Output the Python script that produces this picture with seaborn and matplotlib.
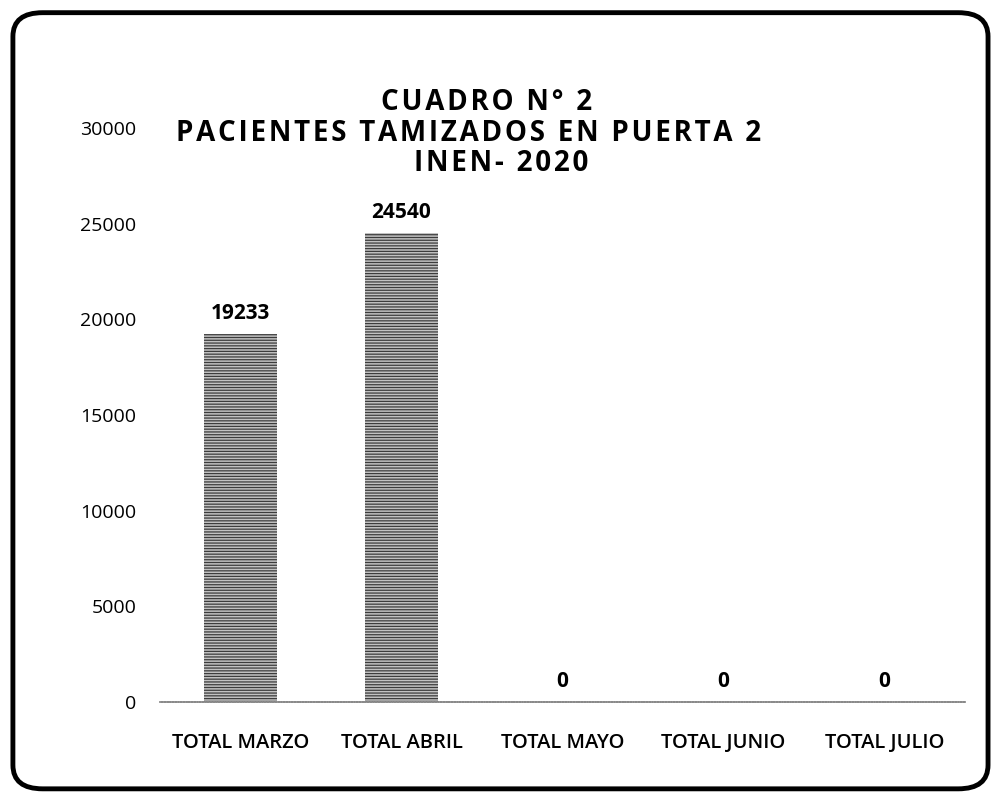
import pandas as pd
import seaborn as sns
import matplotlib.pyplot as plt
from matplotlib.patches import FancyBboxPatch

categories = ["TOTAL MARZO", "TOTAL ABRIL", "TOTAL MAYO", "TOTAL JUNIO", "TOTAL JULIO"]
pacientes = [19233, 24540, 0, 0, 0]
title_lines = ["CUADRO N° 2", "PACIENTES TAMIZADOS EN PUERTA 2", "INEN- 2020"]

df = pd.DataFrame({"mes": categories, "pacientes": pacientes})

sns.set_theme(style="white")
plt.rcParams["font.family"] = ["Open Sans", "DejaVu Sans"]
plt.rcParams["text.color"] = "black"
plt.rcParams["xtick.color"] = "black"
plt.rcParams["ytick.color"] = "black"
plt.rcParams["hatch.linewidth"] = 0.9

fig = plt.figure(figsize=(9.93, 7.92), dpi=100)
ax = fig.add_axes([0.161, 0.1136, 0.811, 0.7247])

sns.barplot(data=df, x="mes", y="pacientes", color="#c2c2c2", width=0.45,
            saturation=1, ax=ax)
for bar in ax.patches:
    bar.set_hatch("------")
    bar.set_edgecolor("#3c3c3c")
    bar.set_linewidth(0)

ax.set_ylim(0, 30000)
ax.set_yticks(range(0, 30001, 5000))
ax.set_xlabel("")
ax.set_ylabel("")
ax.tick_params(axis="y", labelsize=14, pad=17, length=0)
ax.tick_params(axis="x", labelsize=14.5, pad=22, length=0)
for lbl in ax.get_xticklabels():
    lbl.set_fontweight("semibold")
for lbl in ax.get_yticklabels():
    lbl.set_fontweight("medium")
sns.despine(ax=ax, left=True)
ax.spines["bottom"].set_color("#8a8a8a")
ax.spines["bottom"].set_linestyle((0, (1, 0.5)))
ax.spines["bottom"].set_linewidth(1.3)

for bar, val in zip(ax.patches, pacientes):
    ax.annotate(str(val), (bar.get_x() + bar.get_width() / 2, bar.get_height()),
                xytext=(0, 7), textcoords="offset points", ha="center",
                va="bottom", fontsize=15, fontweight="bold")


def spaced(s):
    # wide letter spacing like the original heading
    return "\u200a".join(s)


fig.text(0.490, 0.870, spaced(title_lines[0]), ha="center", va="center",
         fontsize=20, fontweight="bold")
fig.text(0.472, 0.832, spaced(title_lines[1]), ha="center", va="center",
         fontsize=20, fontweight="bold")
fig.text(0.505, 0.794, spaced(title_lines[2]), ha="center", va="center",
         fontsize=20, fontweight="bold")

frame = FancyBboxPatch((0.013, 0.004), 0.982, 0.98,
                       boxstyle="round,pad=0,rounding_size=0.03",
                       transform=fig.transFigure, fill=False,
                       edgecolor="black", linewidth=3.5, clip_on=False)
fig.patches.append(frame)

fig.savefig("out.png", dpi=100)
